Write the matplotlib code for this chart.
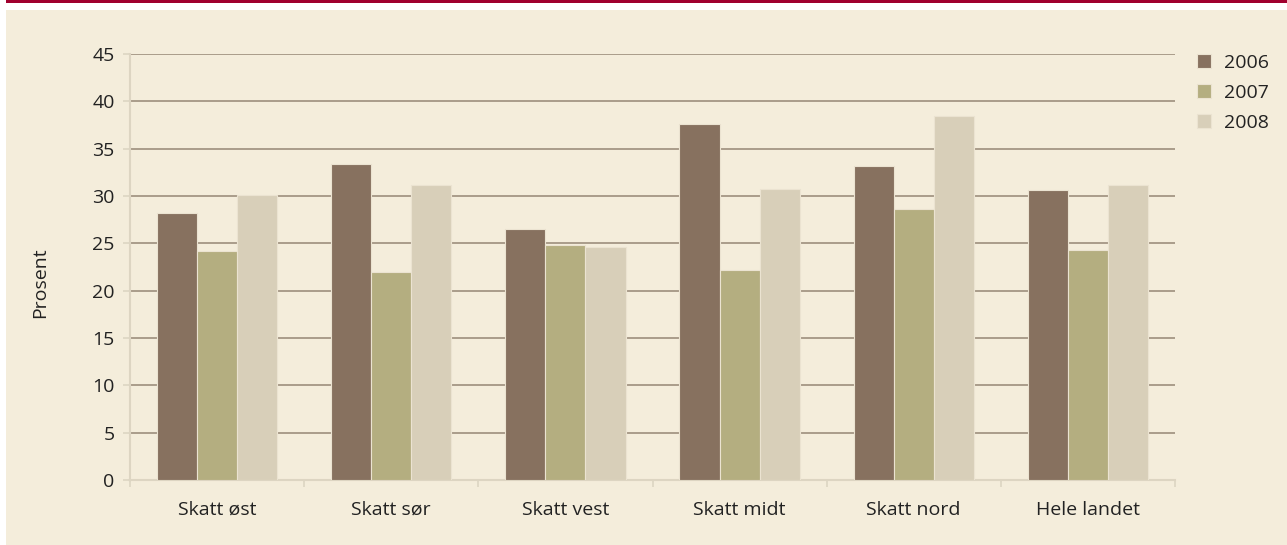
# -*- coding: utf-8 -*-
## Gruppert stolpediagram: andel per skatteregion
import matplotlib
matplotlib.use("Agg")
import matplotlib.pyplot as plt
from matplotlib.patches import Rectangle
import numpy as np

plt.rcParams["font.family"] = ["Open Sans", "DejaVu Sans"]

# data lest av figuren
regions = ["Skatt øst", "Skatt sør", "Skatt vest", "Skatt midt", "Skatt nord", "Hele landet"]
years = ["2006", "2007", "2008"]
v2006 = [28.2, 33.4, 26.5, 37.6, 33.2, 30.6]
v2007 = [24.2, 22.0, 24.8, 22.2, 28.6, 24.3]
v2008 = [30.1, 31.2, 24.6, 30.7, 38.5, 31.2]
yticks = [0, 5, 10, 15, 20, 25, 30, 35, 40, 45]

colors = ["#87715f", "#b4ae80", "#d8cfb9"]
bg = "#f4eddb"
W, H = 1287, 545
fs = 14

fig = plt.figure(figsize=(W / 100, H / 100), dpi=100)
fig.patch.set_facecolor("white")

# beige panel og rød strek øverst
fig.patches.append(Rectangle((6 / W, 0), 1 - 6 / W, 1 - 10 / H,
                             transform=fig.transFigure, facecolor=bg,
                             edgecolor="none", zorder=-10))
fig.patches.append(Rectangle((6 / W, 1 - 2.5 / H), 1 - 6 / W, 2.5 / H,
                             transform=fig.transFigure, facecolor="#a0002e",
                             edgecolor="none", zorder=-10))

ax = fig.add_axes([130 / W, 1 - 480 / H, (1175 - 130) / W, (480 - 54) / H])
ax.set_facecolor(bg)

x = np.arange(len(regions))
bw = 0.23
for i, (vals, yr) in enumerate(zip([v2006, v2007, v2008], years)):
    ax.bar(x + (i - 1) * bw, vals, bw, color=colors[i], label=yr,
           edgecolor="#ebe3d1", linewidth=0.8, zorder=3)

ax.set_xlim(-0.5, len(regions) - 0.5)
ax.set_ylim(0, 45)
ax.set_yticks(yticks)
ax.yaxis.grid(True, color="#9d8f7d", linewidth=1.2, zorder=0)
ax.set_axisbelow(True)

# x-aksens tikker ligger mellom kategoriene
ax.set_xticks(np.arange(-0.5, len(regions)), minor=False)
ax.set_xticklabels([])
ax.set_xticks(x, minor=True)
ax.set_xticklabels(regions, minor=True)
ax.tick_params(axis="x", which="major", length=5, width=1.2, color="#ddd5c2")
ax.tick_params(axis="x", which="minor", length=0, pad=15, labelsize=fs, labelcolor="#222222")
ax.tick_params(axis="y", length=5, width=1.2, color="#ddd5c2", pad=6,
               labelsize=fs, labelcolor="#222222")

for s in ["top", "right"]:
    ax.spines[s].set_visible(False)
for s in ["left", "bottom"]:
    ax.spines[s].set_color("#ddd5c2")
    ax.spines[s].set_linewidth(1.5)

fig.text(40 / W, 1 - 283 / H, "Prosent", rotation=90, ha="center", va="center",
         fontsize=fs, color="#222222")

fig.legend(loc="upper left", bbox_to_anchor=(1179 / W, 1 - 36 / H),
           frameon=False, fontsize=fs, handlelength=0.75, handleheight=0.75,
           handletextpad=0.65, labelspacing=0.62, labelcolor="#222222")

fig.savefig("out.png", dpi=100, facecolor=fig.get_facecolor())
